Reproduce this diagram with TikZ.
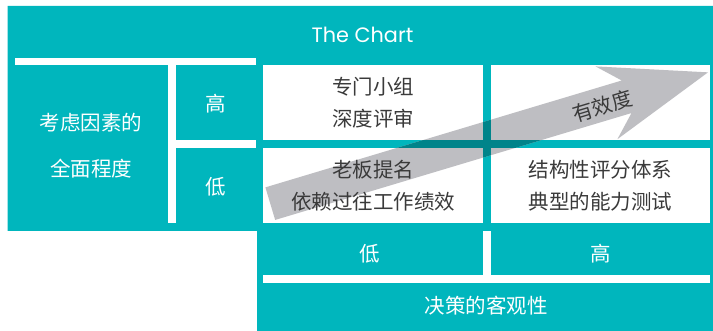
\documentclass[tikz,border=0pt]{standalone}
\usepackage{fontspec}
\newfontfamily\cjk{Noto Sans CJK SC}
\newfontfamily\titlefont{Poppins}
\definecolor{teal0}{RGB}{0,182,189}
\definecolor{tealdark}{RGB}{0,132,138}
\definecolor{arrowgray}{RGB}{190,190,194}
\definecolor{txtdark}{RGB}{58,58,58}
\begin{document}
\begin{tikzpicture}[x=1pt,y=-1pt,
  cellbox/.style={fill=white, draw=none, inner sep=0pt, outer sep=0pt},
  celltext/.style={text=txtdark, font=\cjk\fontsize{20.5}{32}\selectfont, align=center, inner sep=0pt},
  tealtext/.style={text=white, font=\cjk\fontsize{20.5}{32}\selectfont, align=center, inner sep=0pt},
  wstrip/.style={fill=white}]
\useasboundingbox (0,0) rectangle (713,331);
% teal frame
\fill[teal0] (7.5,6) -- (713,6) -- (713,331) -- (257,331) -- (257,231) -- (7.5,231) -- cycle;
% white strips
\fill[wstrip] (15,58) rectangle (256,65);
\fill[wstrip] (168,65) rectangle (176,223);
\fill[wstrip] (168,140) rectangle (256,148);
\fill[wstrip] (483,231) rectangle (491,275);
\fill[wstrip] (263,275) rectangle (710,283);
% cells
\node[cellbox, minimum width=220pt, minimum height=75pt] (c11) at (373,102.5) {};
\node[cellbox, minimum width=219pt, minimum height=75pt] (c12) at (600.5,102.5) {};
\node[cellbox, minimum width=220pt, minimum height=75pt] (c21) at (373,185.5) {};
\node[cellbox, minimum width=219pt, minimum height=75pt] (c22) at (600.5,185.5) {};
% arrow
\coordinate (tip) at (708,72.35);
\coordinate (ub) at (595.55,66.40);
\coordinate (ui) at (621.71,80.49);
\coordinate (ut) at (265.41,187.37);
\coordinate (lt) at (275.17,219.93);
\coordinate (li) at (631.47,113.05);
\coordinate (lb) at (617.39,139.2);
\fill[arrowgray] (tip) -- (ub) -- (ui) -- (ut) -- (lt) -- (li) -- (lb) -- cycle;
\begin{scope}
\clip (tip) -- (ub) -- (ui) -- (ut) -- (lt) -- (li) -- (lb) -- cycle;
\fill[tealdark] (483,65) rectangle (491,223);
\fill[tealdark] (263,140) rectangle (710,148);
\end{scope}
% texts
\node[font=\titlefont\fontsize{20.8}{24}\selectfont, text=white, inner sep=0pt] (title) at (362.5,34.5) {The Chart};
\node[tealtext, font=\cjk\fontsize{20.5}{46.5}\selectfont] (left) at (91,145.5) {考虑因素的\\全面程度};
\node[tealtext] (hi) at (216,103.5) {高};
\node[tealtext] (lo) at (216,186.5) {低};
\node[celltext] (t11) at (c11.center) {专门小组\\深度评审};
\node[celltext] (t21) at (c21.center) {老板提名\\依赖过往工作绩效};
\node[celltext] (t22) at (c22.center) {结构性评分体系\\典型的能力测试};
\node[celltext, rotate=16.7] (eff) at (602.5,106) {有效度};
\node[tealtext] (blo) at (370,253.5) {低};
\node[tealtext] (bhi) at (601,253.5) {高};
\node[tealtext] (obj) at (486,306) {决策的客观性};
\end{tikzpicture}
\end{document}
